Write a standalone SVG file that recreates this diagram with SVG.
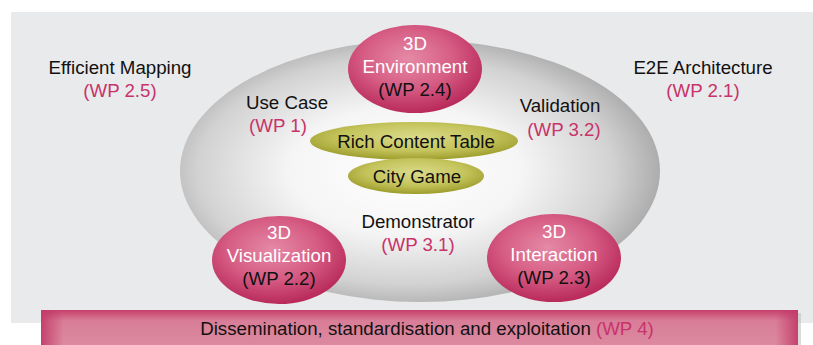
<svg xmlns="http://www.w3.org/2000/svg" width="813" height="345" viewBox="0 0 813 345">
<defs>
<radialGradient id="gBig" cx="0.47" cy="0.5" r="0.54">
<stop offset="0" stop-color="#ffffff"/>
<stop offset="0.45" stop-color="#f5f5f5"/>
<stop offset="0.8" stop-color="#d2d2d2"/>
<stop offset="1" stop-color="#a9a9a9"/>
</radialGradient>
<radialGradient id="gPink" cx="0.45" cy="0.38" r="0.62">
<stop offset="0" stop-color="#e58aa6"/>
<stop offset="0.55" stop-color="#d65c84"/>
<stop offset="1" stop-color="#b82a5a"/>
</radialGradient>
<radialGradient id="gOlive" cx="0.5" cy="0.4" r="0.6">
<stop offset="0" stop-color="#dada8a"/>
<stop offset="0.6" stop-color="#c4c45c"/>
<stop offset="1" stop-color="#9c9c2c"/>
</radialGradient>
<linearGradient id="gBarV" x1="0" y1="0" x2="0" y2="1">
<stop offset="0" stop-color="#c6406c"/>
<stop offset="0.3" stop-color="#d97d98"/>
<stop offset="1" stop-color="#dc8aa1"/>
</linearGradient>
<linearGradient id="gBarH" x1="0" y1="0" x2="1" y2="0">
<stop offset="0" stop-color="#c23a68" stop-opacity="0.9"/>
<stop offset="0.03" stop-color="#c23a68" stop-opacity="0"/>
<stop offset="0.97" stop-color="#c23a68" stop-opacity="0"/>
<stop offset="1" stop-color="#c23a68" stop-opacity="0.9"/>
</linearGradient>
</defs>
<style>
text{font-family:"Liberation Sans",Arial,sans-serif;font-size:18.7px;text-anchor:middle;fill:#111}
.wp{fill:#c8336b}
.w{fill:#ffffff}
.pink{fill:url(#gPink)}
.olive{fill:url(#gOlive)}
</style>
<rect x="0" y="0" width="813" height="345" fill="#ffffff"/>
<rect x="11" y="12" width="802" height="311" fill="#e9eaeb"/>
<g id="core">
<ellipse cx="420" cy="171" rx="240" ry="131" fill="url(#gBig)"/>
</g>
<g id="labels">
<text x="120" y="74">Efficient Mapping</text>
<text x="120" y="97" class="wp">(WP 2.5)</text>
<text x="703" y="74">E2E Architecture</text>
<text x="703" y="97" class="wp">(WP 2.1)</text>
<text x="287" y="109">Use Case</text>
<text x="278" y="132" class="wp">(WP 1)</text>
<text x="560" y="112">Validation</text>
<text x="564" y="136" class="wp">(WP 3.2)</text>
<text x="418" y="228">Demonstrator</text>
<text x="418" y="251" class="wp">(WP 3.1)</text>
</g>
<g id="env">
<ellipse class="pink" cx="415" cy="69" rx="67" ry="44"/>
<text x="415" y="50" class="w">3D</text>
<text x="415" y="73" class="w">Environment</text>
<text x="415" y="96">(WP 2.4)</text>
</g>
<g id="vis">
<ellipse class="pink" cx="279" cy="260" rx="67" ry="44"/>
<text x="279" y="239" class="w">3D</text>
<text x="279" y="262" class="w">Visualization</text>
<text x="279" y="285">(WP 2.2)</text>
</g>
<g id="inter">
<ellipse class="pink" cx="554" cy="258" rx="67" ry="44"/>
<text x="554" y="238" class="w">3D</text>
<text x="554" y="261" class="w">Interaction</text>
<text x="554" y="284">(WP 2.3)</text>
</g>
<g id="rct">
<ellipse class="olive" cx="414" cy="141" rx="104" ry="19"/>
<text x="416" y="148">Rich Content Table</text>
</g>
<g id="city">
<ellipse class="olive" cx="416" cy="176" rx="68" ry="18"/>
<text x="417" y="183">City Game</text>
</g>
<g id="connectors"></g>
<g id="bar">
<rect x="43" y="313" width="758" height="34" fill="#b8b8b8" opacity="0.5"/>
<rect x="41" y="310" width="757" height="36" fill="url(#gBarV)"/>
<rect x="41" y="310" width="757" height="36" fill="url(#gBarH)"/>
<text x="427" y="335">Dissemination, standardisation and exploitation <tspan class="wp">(WP 4)</tspan></text>
</g>
</svg>
